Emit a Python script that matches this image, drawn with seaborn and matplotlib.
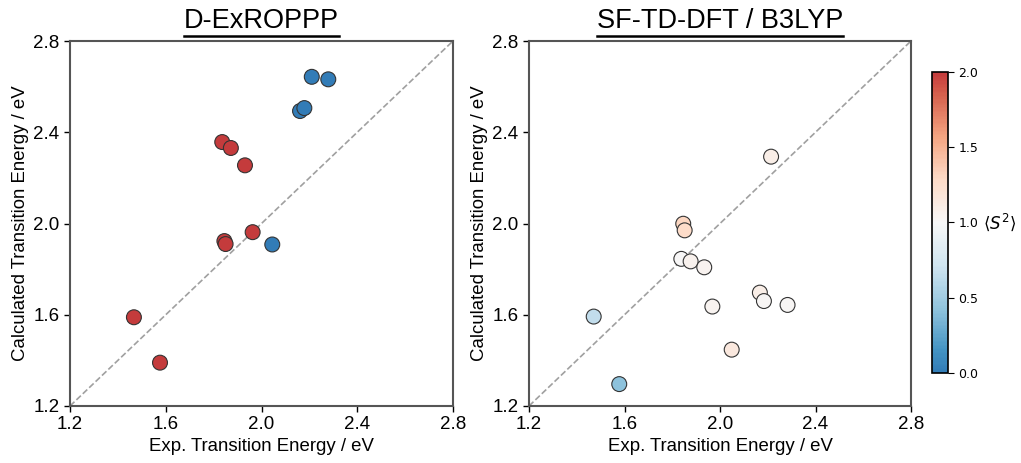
import numpy as np
import pandas as pd
import seaborn as sb
import matplotlib.pyplot as plt
import matplotlib.colors as mcolors

# experimental transition energies (eV)
exp_energy = [1.467, 1.576, 1.836, 1.845, 1.850, 1.872, 1.931, 1.963,
              2.045, 2.161, 2.179, 2.210, 2.279]
# D-ExROPPP calculated energies and <S^2>
exroppp_energy = [1.589, 1.390, 2.357, 1.923, 1.910, 2.331, 2.255, 1.962,
                  1.908, 2.493, 2.506, 2.643, 2.632]
exroppp_s2 = [2.0, 2.0, 2.0, 2.0, 2.0, 2.0, 2.0, 2.0,
              0.0, 0.0, 0.0, 0.0, 0.0]
# SF-TD-DFT / B3LYP
sftddft_exp = [1.471, 1.578, 1.838, 1.846, 1.852, 1.877, 1.934, 1.968,
               2.049, 2.167, 2.184, 2.214, 2.283]
sftddft_energy = [1.592, 1.296, 1.845, 1.999, 1.970, 1.834, 1.808, 1.636,
                  1.447, 1.697, 1.660, 2.293, 1.643]
sftddft_s2 = [0.65, 0.42, 1.00, 1.30, 1.28, 1.06, 1.05, 1.04,
              1.15, 1.10, 1.01, 1.10, 1.02]

titles = ["D-ExROPPP", "SF-TD-DFT / B3LYP"]
ticks = [1.2, 1.6, 2.0, 2.4, 2.8]

plt.rcParams['font.family'] = ['Liberation Sans', 'DejaVu Sans']

# truncated RdBu_r like the reference colour bar
oCmap = mcolors.LinearSegmentedColormap.from_list(
    "rdbu_trunc", plt.get_cmap("RdBu_r")(np.linspace(0.15, 0.85, 256)))
oNorm = mcolors.Normalize(0, 2)

oFig = plt.figure(figsize=(10.21, 4.63), dpi=100)
oAx1 = oFig.add_axes([70 / 1021, 57 / 463, 383 / 1021, 365 / 463])
oAx2 = oFig.add_axes([529 / 1021, 57 / 463, 382 / 1021, 365 / 463])
oCax = oFig.add_axes([932 / 1021, 90 / 463, 16 / 1021, 301 / 463])

oData1 = pd.DataFrame({"exp": exp_energy, "calc": exroppp_energy, "s2": exroppp_s2})
oData2 = pd.DataFrame({"exp": sftddft_exp, "calc": sftddft_energy, "s2": sftddft_s2})

for oAx, oData, sTitle in zip([oAx1, oAx2], [oData1, oData2], titles):
    oAx.plot([1.2, 2.8], [1.2, 2.8], ls="--", color="#a0a0a0", lw=1.2, zorder=1)
    sb.scatterplot(x="exp", y="calc", hue="s2", data=oData, palette=oCmap,
                   hue_norm=oNorm, s=115, edgecolor="#333333", linewidth=0.8,
                   legend=False, ax=oAx, zorder=3)
    oAx.set_xlim(1.2, 2.8)
    oAx.set_ylim(1.2, 2.8)
    oAx.set_xticks(ticks)
    oAx.set_yticks(ticks)
    oAx.tick_params(labelsize=13.5, length=4, width=1)
    oAx.set_xlabel("Exp. Transition Energy / eV", fontsize=13.4, labelpad=3)
    oAx.set_ylabel("Calculated Transition Energy / eV", fontsize=13.4, labelpad=3)
    for oSpine in oAx.spines.values():
        oSpine.set_color("#555555")
        oSpine.set_linewidth(1.5)
    oAx.set_title(sTitle, fontsize=19.5, pad=9)

# colour bar
oSm = plt.cm.ScalarMappable(cmap=oCmap, norm=oNorm)
oCb = oFig.colorbar(oSm, cax=oCax, ticks=[0.0, 0.5, 1.0, 1.5, 2.0])
oCb.ax.tick_params(labelsize=9, length=4)
for oLab in oCb.ax.get_yticklabels():
    oLab.set_family("DejaVu Sans")
oCb.outline.set_linewidth(1.2)
oCax.text(3.2, 1.0, r"$\langle S^2 \rangle$", fontsize=12,
          transform=oCax.get_yaxis_transform(), va="center", ha="left",
          family="DejaVu Sans")

# underline titles
oFig.canvas.draw()
oRenderer = oFig.canvas.get_renderer()
for oAx in [oAx1, oAx2]:
    oBox = oAx.title.get_window_extent(oRenderer)
    oFig.add_artist(plt.Line2D([oBox.x0 / 1021, oBox.x1 / 1021],
                               [(oBox.y0 - 1) / 463, (oBox.y0 - 1) / 463],
                               color="black", lw=1.8,
                               transform=oFig.transFigure))

oFig.savefig("out.png", dpi=100)
